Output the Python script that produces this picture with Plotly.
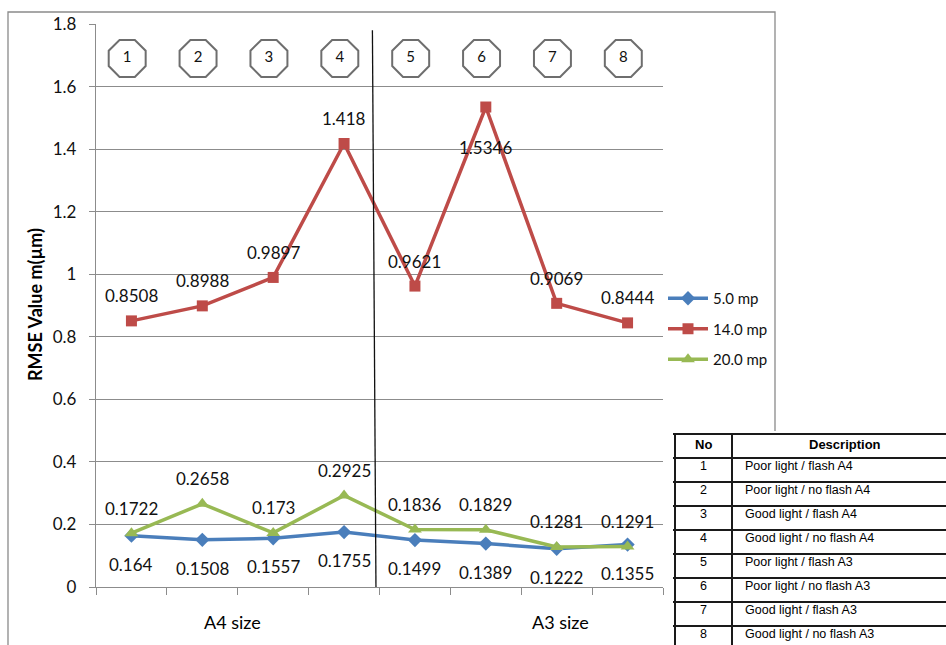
import plotly.graph_objects as go

# ---- data -------------------------------------------------------------
categories = [1, 2, 3, 4, 5, 6, 7, 8]
category_ids = ["1", "2", "3", "4", "5", "6", "7", "8"]
series_names = ["5.0 mp", "14.0 mp", "20.0 mp"]
rmse_5mp = [0.164, 0.1508, 0.1557, 0.1755, 0.1499, 0.1389, 0.1222, 0.1355]
rmse_14mp = [0.8508, 0.8988, 0.9897, 1.418, 0.9621, 1.5346, 0.9069, 0.8444]
rmse_20mp = [0.1722, 0.2658, 0.173, 0.2925, 0.1836, 0.1829, 0.1281, 0.1291]
group_labels = ["A4 size", "A3 size"]
y_ticks = [0, 0.2, 0.4, 0.6, 0.8, 1.0, 1.2, 1.4, 1.6, 1.8]
table_header = ["No", "Description"]
table_no = ["1", "2", "3", "4", "5", "6", "7", "8"]
table_desc = [
    "Poor light / flash A4",
    "Poor light / no flash A4",
    "Good light / flash A4",
    "Good light / no flash A4",
    "Poor light / flash A3",
    "Poor light / no flash A3",
    "Good light / flash A3",
    "Good light / no flash A3",
]

# ---- layout constants ---------------------------------------------------
W, H = 946, 645
PL, PR, PT, PB = 96, 663, 24, 587
FONT = "Lato"
BLUE, RED, GREEN = "#4a7ebb", "#be4b48", "#98b954"
GRID = "#8c8c8c"


def px_x(x):
    return (x - PL) / (PR - PL)


def px_y(y):
    return (PB - y) / (PB - PT)


def note(x, y, text, size, family=FONT, xanchor="center", **kw):
    """Paper-referenced text placed by pixel position."""
    return dict(
        x=px_x(x), y=px_y(y), xref="paper", yref="paper", text=text,
        showarrow=False, xanchor=xanchor, yanchor="middle",
        font=dict(family=family, size=size, color="#000"), **kw,
    )


fig = go.Figure()

# numbered octagon badges along the top of the plot
fig.add_trace(go.Scatter(
    x=[c - 0.06 for c in categories], y=[1.69] * len(categories),
    mode="markers+text", text=category_ids, textposition="middle center",
    textfont=dict(family=FONT, size=15, color="#111"),
    marker=dict(symbol="octagon", size=40, color="white",
                line=dict(color="#6e6e6e", width=2)),
    showlegend=False, hoverinfo="skip", cliponaxis=False,
))

series = [
    (series_names[0], rmse_5mp, BLUE, "diamond", 11),
    (series_names[1], rmse_14mp, RED, "square", 11),
    (series_names[2], rmse_20mp, GREEN, "triangle-up", 12),
]
for name, vals, col, sym, msize in series:
    fig.add_trace(go.Scatter(
        x=categories, y=vals, name=name, mode="lines+markers",
        line=dict(color=col, width=3.5),
        marker=dict(symbol=sym, size=msize, color=col),
        legendgroup=name, cliponaxis=False,
    ))

annotations = []

# value labels: 14.0 mp and 20.0 mp above, 5.0 mp below (peak at 6 below)
def add_labels(vals, shifts):
    for c, v, s in zip(categories, vals, shifts):
        annotations.append(dict(
            x=c, y=v, xref="x", yref="y", text=f"{v:g}", showarrow=False,
            xanchor="center", yanchor="middle",
            yshift=s, font=dict(family=FONT, size=17, color="#111"),
        ))

add_labels(rmse_5mp, [-28.5] * 8)
add_labels(rmse_14mp, [25, 25, 25, 25, 25, -40, 25, 25])
add_labels(rmse_20mp, [25] * 8)

# group captions under the axis
for text, gx in zip(group_labels, [232, 560]):
    annotations.append(note(gx, 622, text, 18))

# y-axis title
annotations.append(note(35, 305, "<b>RMSE Value m(µm)</b>", 18, textangle=-90))

shapes = []
# chart-area frame
shapes.append(dict(
    type="rect", xref="paper", yref="paper",
    x0=px_x(8), x1=px_x(775), y0=px_y(12), y1=px_y(680),
    line=dict(color="#8a8a8a", width=1.3), layer="below",
))
# divider between the A4 and A3 groups
shapes.append(dict(
    type="line", xref="x", yref="y", x0=4.40, x1=4.45, y0=1.78, y1=0,
    line=dict(color="#111", width=1.3),
))

# description table in the lower right corner
T_LEFT, T_DIV, T_RIGHT, T_TOP, ROW_H = 675, 732, 980, 434, 24.0
shapes.append(dict(
    type="rect", xref="paper", yref="paper",
    x0=px_x(671), x1=px_x(T_RIGHT), y0=px_y(431), y1=px_y(700),
    fillcolor="white", line=dict(width=0), layer="above",
))
n_rows = len(table_no) + 1
for k in range(n_rows + 1):
    yy = T_TOP + k * ROW_H
    shapes.append(dict(
        type="line", xref="paper", yref="paper",
        x0=px_x(673), x1=px_x(T_RIGHT), y0=px_y(yy), y1=px_y(yy),
        line=dict(color="#1a1a1a", width=2), layer="above",
    ))
for xx in (T_LEFT, T_DIV):
    shapes.append(dict(
        type="line", xref="paper", yref="paper",
        x0=px_x(xx), x1=px_x(xx), y0=px_y(T_TOP), y1=px_y(T_TOP + n_rows * ROW_H),
        line=dict(color="#1a1a1a", width=2), layer="above",
    ))

TFONT = "Liberation Sans"
annotations.append(note(703, T_TOP + 10, f"<b>{table_header[0]}</b>", 13, TFONT))
annotations.append(note(845, T_TOP + 10, f"<b>{table_header[1]}</b>", 13, TFONT))
for i, (no, desc) in enumerate(zip(table_no, table_desc), start=1):
    yc = T_TOP + i * ROW_H + 8
    annotations.append(note(703, yc, no, 12.5, TFONT))
    annotations.append(note(743, yc, desc, 12.5, TFONT, xanchor="left"))

fig.update_layout(
    width=W, height=H,
    margin=dict(l=PL, r=W - PR, t=PT, b=H - PB, pad=0),
    paper_bgcolor="white", plot_bgcolor="white",
    showlegend=True,
    legend=dict(
        x=1.0, xanchor="left", y=px_y(282), yanchor="top",
        font=dict(family=FONT, size=15, color="#111"),
        bgcolor="rgba(0,0,0,0)", tracegroupgap=8, itemwidth=40,
    ),
    xaxis=dict(
        range=[0.5, 8.5], showgrid=False, zeroline=False,
        showline=True, linecolor=GRID, linewidth=1.3,
        tickvals=[c - 0.5 for c in categories] + [8.5],
        ticks="outside", ticklen=7, tickcolor=GRID, tickwidth=1.3,
        showticklabels=False,
    ),
    yaxis=dict(
        range=[0, 1.8], tickvals=y_ticks,
        ticktext=[f"{t:g}" for t in y_ticks],
        showgrid=True, gridcolor=GRID, gridwidth=1.2, zeroline=False,
        showline=True, linecolor=GRID, linewidth=1.3,
        ticks="outside", ticklen=6, tickcolor=GRID, tickwidth=1.3,
        tickfont=dict(family=FONT, size=17, color="#111"),
        ticklabelstandoff=9,
    ),
    annotations=annotations,
    shapes=shapes,
)

fig.write_html("out.html")
